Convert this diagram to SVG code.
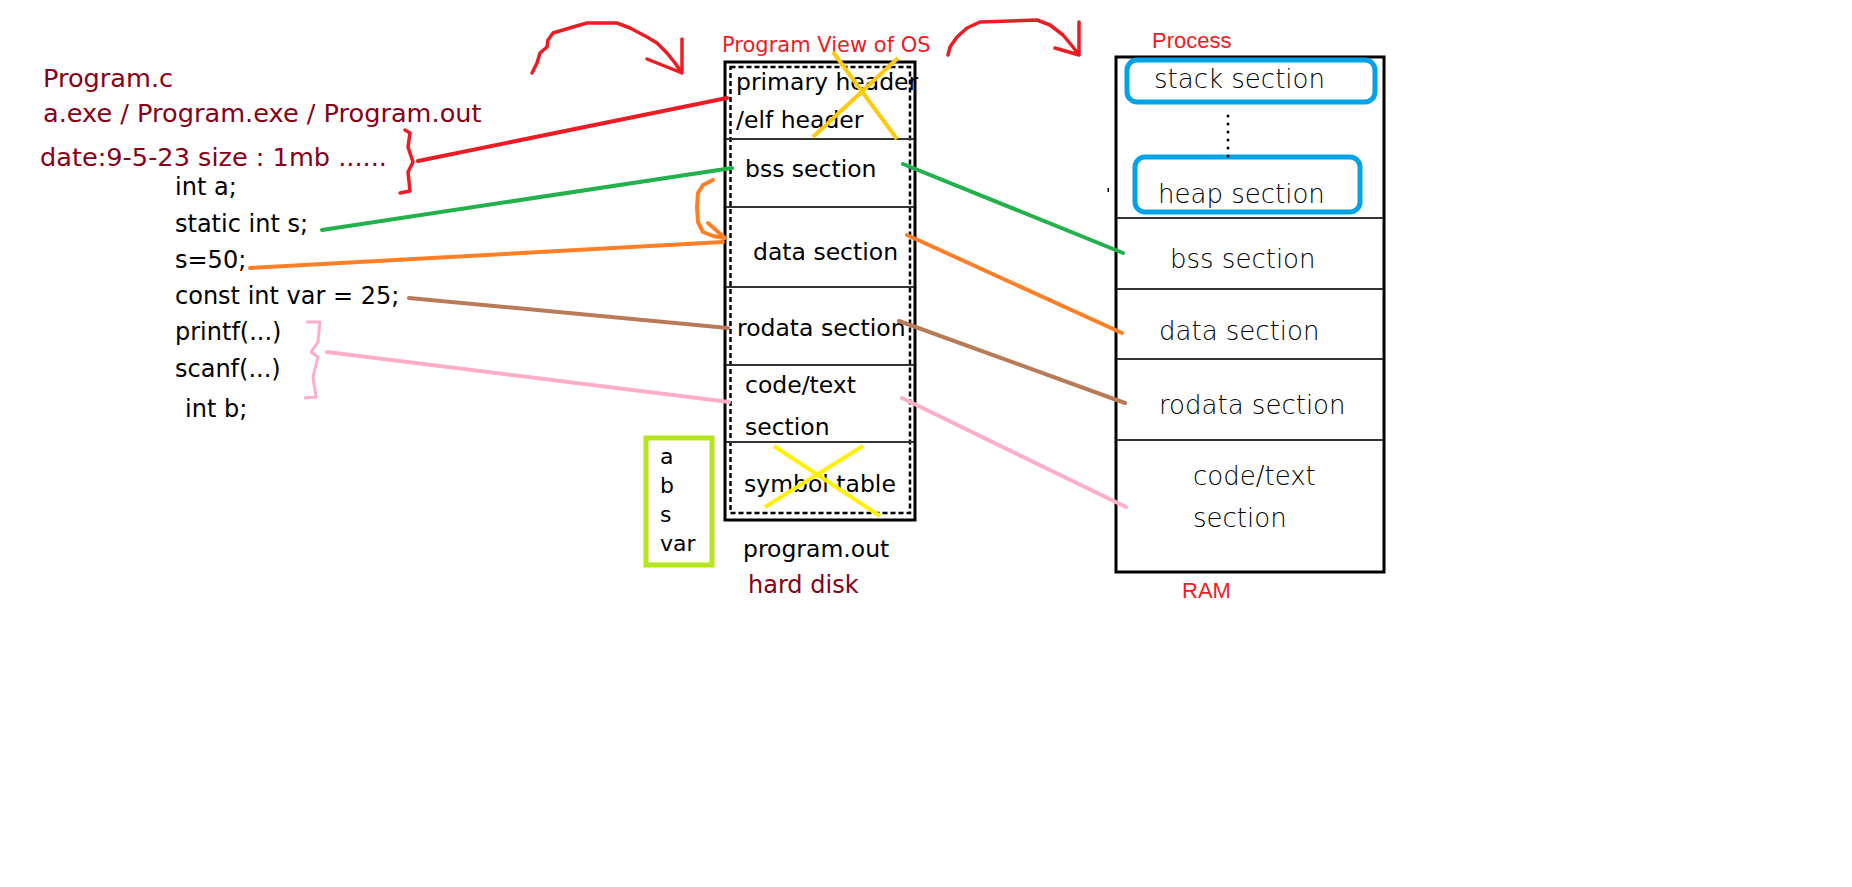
<svg xmlns="http://www.w3.org/2000/svg" width="1852" height="887" viewBox="0 0 1852 887">
<style>
.dr{font-family:"DejaVu Sans",Verdana,sans-serif;fill:#880015;font-size:25.6px}
.code{font-family:"DejaVu Sans",Verdana,sans-serif;fill:#000;font-size:24px}
.box{font-family:"DejaVu Sans",Verdana,sans-serif;fill:#000;font-size:23.5px}
.ram{font-family:"DejaVu Sans",sans-serif;fill:#000;font-size:26px;font-weight:300}
.red{font-family:"Liberation Sans",Arial,sans-serif;fill:#ED1C24;font-size:22px}
.rv{font-family:"DejaVu Sans",Verdana,sans-serif;fill:#ED1C24;font-size:21px}
.frame{fill:#fff;stroke:#000;stroke-width:3}
.div{stroke:#333;stroke-width:2}
.ln{fill:none;stroke-width:4;stroke-linecap:round;stroke-linejoin:round}
.hand{fill:none;stroke:#ED1C24;stroke-width:3.5;stroke-linecap:round;stroke-linejoin:round}
</style>
<rect width="1852" height="887" fill="#fff"/>

<g id="source">
<text class="dr" x="43" y="87">Program.c</text>
<text class="dr" x="43" y="122">a.exe / Program.exe / Program.out</text>
<text class="dr" x="40" y="166">date:9-5-23 size : 1mb ......</text>
<text class="code" x="175" y="195">int a;</text>
<text class="code" x="175" y="232">static int s;</text>
<text class="code" x="175" y="268">s=50;</text>
<text class="code" x="175" y="304">const int var = 25;</text>
<text class="code" x="175" y="340">printf(...)</text>
<text class="code" x="175" y="377">scanf(...)</text>
<text class="code" x="185" y="417">int b;</text>
<path class="hand" d="M405,130 L410,133 L408,147 L413,162 L408,172 L410,191 L400,193"/>
<path d="M306,322 L320,322 L318,342 L311,352 L318,357 L313,377 L316,397 L304,398" fill="none" stroke="#FFAEC9" stroke-width="3" stroke-linejoin="round"/>
</g>

<g id="program-view">
<text class="rv" x="722" y="52">Program View of OS</text>
<rect class="frame" x="725" y="62" width="190" height="458"/>
<rect x="730.5" y="67" width="179.5" height="446" fill="none" stroke="#000" stroke-width="2.5" stroke-dasharray="5 3"/>
<line class="div" x1="726" y1="139" x2="914" y2="139"/>
<line class="div" x1="726" y1="207" x2="914" y2="207"/>
<line class="div" x1="726" y1="287" x2="914" y2="287"/>
<line class="div" x1="726" y1="365" x2="914" y2="365"/>
<line class="div" x1="726" y1="442" x2="914" y2="442"/>
<text class="box" x="736" y="90">primary header</text>
<text class="box" x="736" y="128">/elf header</text>
<text class="box" x="745" y="177">bss section</text>
<text class="box" x="753" y="260">data section</text>
<text class="box" x="737" y="336">rodata section</text>
<text class="box" x="745" y="393">code/text</text>
<text class="box" x="745" y="435">section</text>
<text class="box" x="744" y="492">symbol table</text>
<line x1="833" y1="52" x2="897" y2="139" stroke="#FFC90E" stroke-width="4"/>
<line x1="898" y1="58" x2="813" y2="137" stroke="#FFC90E" stroke-width="4"/>
<line x1="774" y1="446" x2="880" y2="516" stroke="#FFF200" stroke-width="4"/>
<line x1="863" y1="446" x2="765" y2="507" stroke="#FFF200" stroke-width="4"/>
<text class="box" x="743" y="557">program.out</text>
<text class="dr" x="748" y="593" style="font-size:24px">hard disk</text>
</g>

<g id="symbols">
<rect x="646" y="438" width="66" height="127" fill="none" stroke="#B5E61D" stroke-width="5"/>
<text class="code" x="660" y="464" style="font-size:22px">a</text>
<text class="code" x="660" y="493" style="font-size:22px">b</text>
<text class="code" x="660" y="522" style="font-size:22px">s</text>
<text class="code" x="660" y="551" style="font-size:22px">var</text>
</g>

<g id="process">
<text class="red" x="1152" y="48">Process</text>
<rect class="frame" x="1116" y="57" width="268" height="515"/>
<line class="div" x1="1117" y1="218" x2="1383" y2="218"/>
<line class="div" x1="1117" y1="289" x2="1383" y2="289"/>
<line class="div" x1="1117" y1="359" x2="1383" y2="359"/>
<line class="div" x1="1117" y1="440" x2="1383" y2="440"/>
<rect x="1127" y="60" width="248" height="42" rx="10" fill="none" stroke="#00A2E8" stroke-width="5"/>
<rect x="1135" y="157" width="225" height="55" rx="10" fill="none" stroke="#00A2E8" stroke-width="5"/>
<line x1="1228" y1="116" x2="1228" y2="164" stroke="#000" stroke-width="3" stroke-linecap="round" stroke-dasharray="0 8"/>
<rect x="1107.5" y="188" width="1.5" height="4" fill="#000"/>
<text class="ram" x="1154" y="88">stack section</text>
<text class="ram" x="1158" y="203">heap section</text>
<text class="ram" x="1170" y="268">bss section</text>
<text class="ram" x="1159" y="340">data section</text>
<text class="ram" x="1159" y="414">rodata section</text>
<text class="ram" x="1193" y="485">code/text</text>
<text class="ram" x="1193" y="527">section</text>
<text class="red" x="1182" y="598">RAM</text>
</g>

<g id="connectors">
<path class="hand" d="M532,73 L537,63 L540,53 L547,47 L548,40 L553,33 L563,30 L573,27 L587,23 L617,23 L630,28 L647,37 L657,43 L667,53 L675,63 L682,73 M682,39 L682,73 M647,59 L682,73"/>
<path class="hand" d="M948,55 L950,47 L957,37 L967,28 L980,22 L1037,20 L1050,25 L1063,35 L1073,47 L1079,55 M1079,22 L1079,55 M1055,48 L1079,55"/>
<line class="ln" x1="418" y1="161" x2="727" y2="98" stroke="#ED1C24"/>
<line class="ln" x1="322" y1="230" x2="732" y2="168" stroke="#22B14C"/>
<line class="ln" x1="250" y1="268" x2="723" y2="242" stroke="#FF7F27"/>
<path class="ln" d="M713,180 L703,185 L698,193 L697,207 L698,222 L703,232 L713,236 L725,238 M708,223 L725,238" stroke="#FF7F27"/>
<line class="ln" x1="409" y1="298" x2="728" y2="328" stroke="#B97A57"/>
<line class="ln" x1="327" y1="352" x2="729" y2="402" stroke="#FFAEC9"/>
<line class="ln" x1="903" y1="164" x2="1123" y2="253" stroke="#22B14C"/>
<line class="ln" x1="907" y1="235" x2="1122" y2="333" stroke="#FF7F27"/>
<line class="ln" x1="899" y1="321" x2="1125" y2="403" stroke="#B97A57"/>
<line class="ln" x1="902" y1="398" x2="1126" y2="507" stroke="#FFAEC9"/>
</g>
</svg>
